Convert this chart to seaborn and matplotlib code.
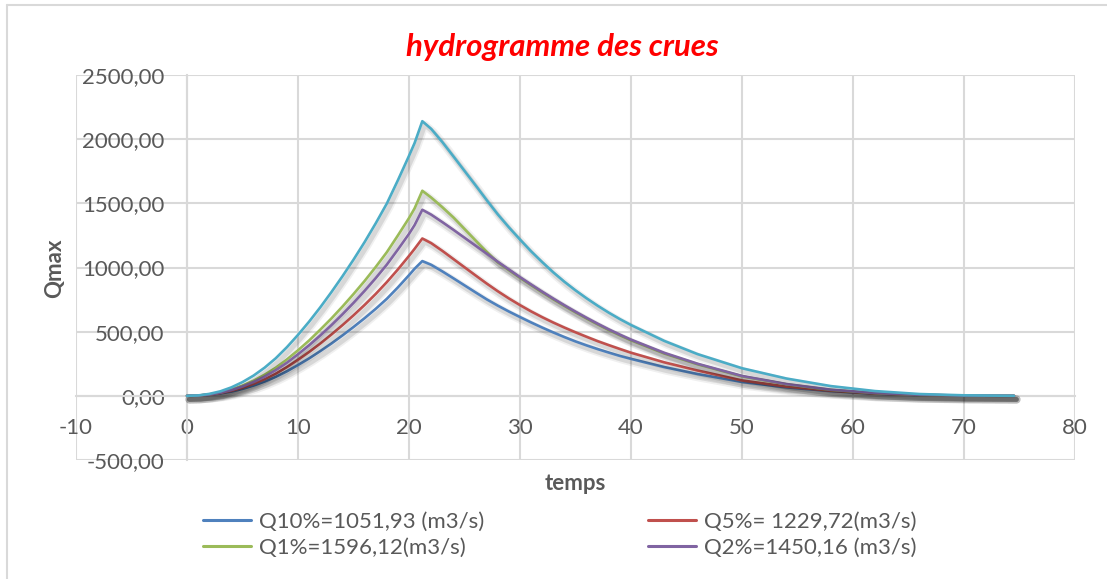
import matplotlib
matplotlib.use("Agg")
import matplotlib.pyplot as plt
import matplotlib.patheffects as pe
from matplotlib.ticker import FuncFormatter
from matplotlib.lines import Line2D
import seaborn as sns
import pandas as pd

# ---- data ----
temps = [0, 1, 2, 3, 4, 5, 6, 7, 8, 9, 10, 11, 12, 13, 14, 15, 16, 17, 18, 19, 20, 20.5, 21.2,
         22, 23, 24, 25, 26, 27, 28, 29, 30, 31, 32, 33, 34, 35, 36, 37, 38, 39, 40,
         43, 46, 50, 54, 58, 62, 66, 70, 74.5]

q10 = [0, 2, 8, 18, 33, 54, 80, 111, 148, 191, 240, 292, 348, 407, 470, 536, 605, 678, 756, 845, 940, 990, 1050,
       1021, 970, 916, 861, 806, 752, 703, 657, 614, 572, 532, 494, 458, 424, 393, 364, 337, 311, 288,
       224, 170, 108, 66, 37, 17, 6, 2, 0]
q5 = [0, 2, 9, 21, 39, 63, 94, 130, 173, 224, 281, 342, 407, 477, 550, 627, 708, 794, 886, 985, 1090, 1145, 1226,
      1190, 1130, 1066, 1002, 938, 875, 815, 759, 707, 658, 613, 571, 532, 495, 460, 426, 395, 365, 336,
      261, 197, 120, 72, 40, 18, 7, 2, 0]
q1 = [0, 2, 11, 26, 50, 80, 118, 165, 219, 283, 355, 431, 515, 602, 695, 793, 895, 1004, 1119, 1250, 1385, 1460, 1598,
      1545, 1470, 1390, 1300, 1210, 1122, 1040, 980, 920, 863, 807, 753, 701, 651, 603, 557, 513, 472, 433,
      330, 246, 152, 90, 46, 21, 7, 2, 0]
q2 = [0, 2, 10, 24, 45, 73, 108, 150, 200, 258, 324, 394, 470, 550, 635, 724, 818, 917, 1022, 1140, 1262, 1330, 1450,
      1412, 1354, 1294, 1232, 1170, 1108, 1045, 985, 925, 868, 812, 758, 706, 656, 608, 562, 518, 477, 438,
      335, 250, 155, 92, 48, 22, 8, 2, 0]
q01 = [0, 3, 15, 35, 66, 107, 158, 220, 293, 379, 475, 578, 689, 807, 931, 1061, 1198, 1344, 1498, 1680, 1870, 1969, 2140,
       2080, 1978, 1866, 1753, 1640, 1525, 1414, 1313, 1218, 1126, 1042, 962, 889, 822, 760, 702, 648, 598, 552,
       428, 325, 215, 135, 76, 37, 14, 4, 0]

labels = ["Q10%=1051,93 (m3/s)", "Q5%= 1229,72(m3/s)", "Q1%=1596,12(m3/s)", "Q2%=1450,16 (m3/s)", None]
series = [q10, q5, q1, q2, q01]
colors = ["#4F81BD", "#C0504D", "#9BBB59", "#8064A2", "#4BACC6"]

x_ticks = [-10, 0, 10, 20, 30, 40, 50, 60, 70, 80]
y_ticks = [-500, 0, 500, 1000, 1500, 2000, 2500]

title = "hydrogramme des crues"
xlabel = "temps"
ylabel = "Qmax"

# ---- style ----
sns.set_style("white")
plt.rcParams["font.family"] = ["Lato", "DejaVu Sans"]

W, H = 1107, 579
fig = plt.figure(figsize=(W / 100, H / 100), dpi=100)
ax = fig.add_axes([76 / W, 1 - 460 / H, (1075 - 76) / W, (460 - 75) / H])

grid_c = "#D9D9D9"
text_c = "#595959"

shadow = [
    pe.SimpleLineShadow(offset=(1.8, -2.6), shadow_color="black", alpha=0.06, linewidth=6),
    pe.SimpleLineShadow(offset=(1.8, -2.6), shadow_color="black", alpha=0.10, linewidth=3.5),
    pe.Normal(),
]

for ys, c in zip(series, colors):
    df = pd.DataFrame({"t": temps, "q": ys})
    sns.lineplot(data=df, x="t", y="q", color=c, linewidth=1.9, ax=ax, sort=False,
                 legend=False, path_effects=shadow, zorder=3)

ax.set_xlim(-10, 80)
ax.set_ylim(-500, 2500)
ax.set_xticks(x_ticks)
ax.set_yticks(y_ticks)
ax.yaxis.set_major_formatter(FuncFormatter(lambda v, p: f"{v:.2f}".replace(".", ",")))
ax.xaxis.set_major_formatter(FuncFormatter(lambda v, p: f"{int(v)}"))
ax.grid(True, color=grid_c, linewidth=1.5, zorder=0)
ax.set_axisbelow(True)

for s in ["top", "right"]:
    ax.spines[s].set_visible(False)
ax.spines["left"].set_position(("data", 0))
ax.spines["bottom"].set_position(("data", 0))
for s in ["left", "bottom"]:
    ax.spines[s].set_color(grid_c)
    ax.spines[s].set_linewidth(1.5)
    ax.spines[s].set_zorder(1)

ax.tick_params(axis="both", length=0, labelsize=16, labelcolor=text_c)
ax.tick_params(axis="y", pad=16)
ax.tick_params(axis="x", pad=16)
ax.set_xlabel("")
ax.set_ylabel("")

fig.text(562 / W, 1 - 47 / H, title, color="#FF0000", fontsize=22.5, fontweight="bold",
         fontstyle="italic", ha="center", va="center")
fig.text(55 / W, 1 - 268 / H, ylabel, color=text_c, fontsize=16, fontweight="bold",
         rotation=90, ha="center", va="center")
fig.text(575 / W, 1 - 483 / H, xlabel, color=text_c, fontsize=16, fontweight="bold",
         ha="center", va="center")

handles = [Line2D([], [], color=c, linewidth=2.2) for c in colors[:4]]
order = [0, 2, 1, 3]
leg = fig.legend([handles[i] for i in order], [labels[i] for i in order], ncol=2,
                 loc="center left", bbox_to_anchor=(203 / W, 1 - 534.5 / H),
                 frameon=False, fontsize=16, handlelength=2.15, handletextpad=0.36,
                 columnspacing=7.4, labelspacing=0.28, borderpad=0, borderaxespad=0)
for t in leg.get_texts():
    t.set_color(text_c)

# outer chart border (top and left visible)
fig.add_artist(Line2D([7 / W, 7 / W], [0, 1 - 5 / H], color=grid_c, linewidth=1.5))
fig.add_artist(Line2D([7 / W, 1], [1 - 5 / H, 1 - 5 / H], color=grid_c, linewidth=1.5))

fig.savefig("out.png", dpi=100)
